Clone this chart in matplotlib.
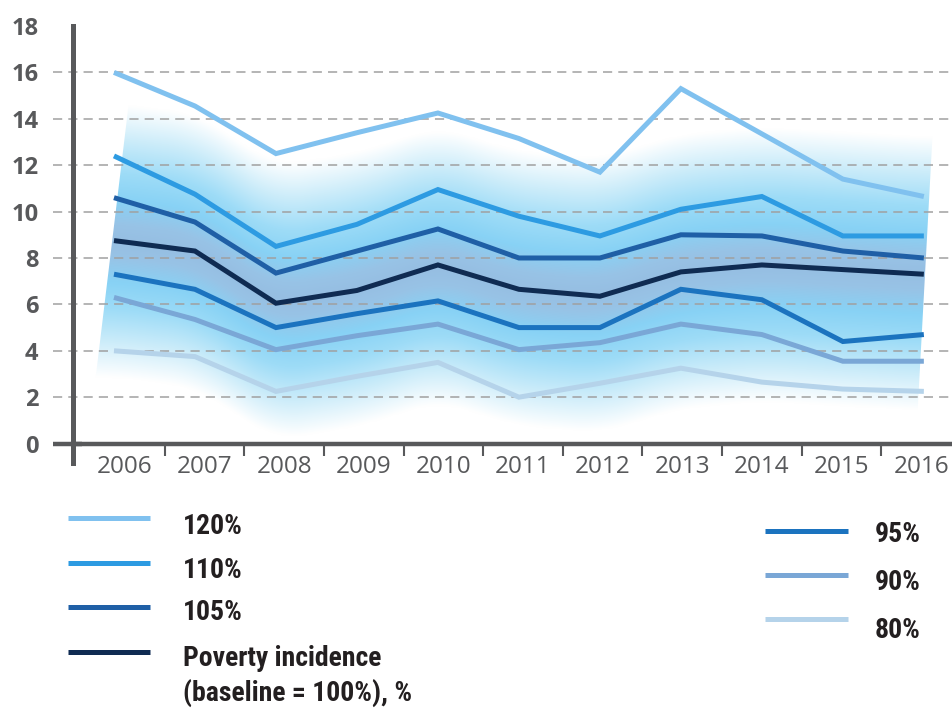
import numpy as np
import matplotlib
matplotlib.use('Agg')
import matplotlib.pyplot as plt
from matplotlib.lines import Line2D
from matplotlib.patches import Polygon
from matplotlib import font_manager

# ---------------- data ----------------
years = ['2006', '2007', '2008', '2009', '2010', '2011', '2012', '2013', '2014', '2015', '2016']
p120 = [16.0, 14.55, 12.5, 13.4, 14.25, 13.15, 11.7, 15.3, 13.35, 11.4, 10.65]
p110 = [12.4, 10.75, 8.5, 9.45, 10.95, 9.8, 8.95, 10.1, 10.65, 8.95, 8.95]
p105 = [10.6, 9.55, 7.35, 8.3, 9.25, 8.0, 8.0, 9.0, 8.95, 8.3, 8.0]
base = [8.75, 8.3, 6.05, 6.6, 7.7, 6.65, 6.35, 7.4, 7.7, 7.5, 7.3]
p95 = [7.3, 6.65, 5.0, 5.6, 6.15, 5.0, 5.0, 6.65, 6.2, 4.4, 4.7]
p90 = [6.3, 5.35, 4.05, 4.65, 5.15, 4.05, 4.35, 5.15, 4.7, 3.55, 3.55]
p80 = [4.0, 3.75, 2.25, 2.9, 3.5, 2.0, 2.6, 3.25, 2.65, 2.35, 2.25]
yticks = [0, 2, 4, 6, 8, 10, 12, 14, 16, 18]

series_left = [
    ('120%', p120, '#80c1ef'),
    ('110%', p110, '#2d9be2'),
    ('105%', p105, '#1f5fa6'),
    ('Poverty incidence', base, '#0f2b52'),
]
series_right = [
    ('95%', p95, '#1b73bf'),
    ('90%', p90, '#7aa7d6'),
    ('80%', p80, '#b5d3ea'),
]

# pick a narrow bold family if one exists
avail = {f.name for f in font_manager.fontManager.ttflist}
narrow = None
for cand in ['Liberation Sans Narrow', 'Roboto Condensed', 'Open Sans Condensed',
             'DejaVu Sans Condensed']:
    if cand in avail:
        narrow = cand
        break
if narrow is None:
    legend_family = ['Roboto']
    legend_size = 18.5
else:
    legend_family = [narrow, 'Roboto']
    legend_size = 20

W, H = 953, 709
fig = plt.figure(figsize=(W / 100, H / 100), dpi=100)
XMIN, XMAX = -0.506, 10.36
YMIN, YMAX = -0.85, 18
ax = fig.add_axes([73 / W, (H - 463.3) / H, (W - 73) / W, (463.3 - 26) / H])
ax.set_xlim(XMIN, XMAX)
ax.set_ylim(YMIN, YMAX)
ax.patch.set_alpha(0)

xi = np.arange(len(years))

# ---------------- glow band around the baseline ----------------
nx, ny = 900, 500
xs = np.linspace(XMIN, XMAX, nx)
ys = np.linspace(YMIN, YMAX, ny)
b = np.interp(xs, xi, base)
kw = 61
bpad = np.pad(b, kw // 2, mode='edge')
bs = np.convolve(bpad, np.ones(kw) / kw, mode='valid')
D = np.abs(ys[:, None] - bs[None, :]) / 5.9
stops = np.array([0.0, 0.12, 0.30, 0.50, 0.75, 1.0])
cols = np.array([[150, 190, 226], [152, 195, 230], [136, 210, 245],
                 [158, 220, 247], [206, 237, 250], [255, 255, 255]]) / 255.0
rgb = np.zeros((ny, nx, 3))
Dc = np.clip(D, 0, 1)
for c in range(3):
    rgb[..., c] = np.interp(Dc, stops, cols[:, c])
im = ax.imshow(rgb, extent=[XMIN, XMAX, YMIN, YMAX], origin='lower',
               aspect='auto', interpolation='bilinear', zorder=0)
clip = Polygon([[-0.359, -1], [0.298, 18], [10.18, 18], [9.886, -1]],
               closed=True, transform=ax.transData)
im.set_clip_path(clip)

# ---------------- grid ----------------
ext = -20 / (W - 73)
for v in yticks[1:-1]:
    ax.axhline(v, xmin=ext, xmax=1, clip_on=False, color='#a0a0a0',
               lw=1.1, ls=(0, (6, 4)), zorder=1)

# ---------------- lines ----------------
for name, vals, col in series_right[::-1] + series_left[::-1]:
    ax.plot(xi, vals, color=col, lw=3.6, solid_capstyle='butt',
            solid_joinstyle='miter', zorder=3)

# ---------------- axes ----------------
axcol = '#58595b'
for s in ['top', 'right']:
    ax.spines[s].set_visible(False)
ax.spines['left'].set_color(axcol)
ax.spines['left'].set_linewidth(3.6)
ax.spines['left'].set_zorder(5)
ax.spines['bottom'].set_position(('data', 0))
ax.spines['bottom'].set_color(axcol)
ax.spines['bottom'].set_linewidth(3.2)
ax.spines['bottom'].set_zorder(5)
ax.axhline(0, xmin=ext, xmax=0.01, clip_on=False, color=axcol, lw=3.2, zorder=5,
           solid_capstyle='butt')

label_pos = 0.136 + 0.983 * xi
tick_pos = label_pos[:-1] + 0.49
ax.set_xticks(tick_pos)
ax.set_xticklabels([])
ax.tick_params(axis='x', which='major', direction='out', length=8.5, width=1.5,
               color=axcol)
ax.set_xticks(label_pos, minor=True)
ax.set_xticklabels(years, minor=True, fontfamily='Open Sans', fontsize=17.5,
                   color=axcol)
ax.tick_params(axis='x', which='minor', length=0, pad=8)

ax.set_yticks(yticks)
ax.set_yticklabels([str(v) for v in yticks], fontfamily='Open Sans',
                   fontweight='bold', fontsize=17, color=axcol)
ax.tick_params(axis='y', length=0, pad=25)

# ---------------- legend ----------------
lfont = dict(family=legend_family, weight='bold', stretch='condensed',
             size=legend_size, color='#231f20', va='center', ha='left')

def fx(px):
    return px / W

def fy(py):
    return 1 - py / H

left_line_y = [518, 563, 607, 652]
left_text_y = [526, 570, 613, 658]
for (name, vals, col), ly, ty in zip(series_left, left_line_y, left_text_y):
    fig.add_artist(Line2D([fx(68), fx(150)], [fy(ly), fy(ly)], color=col, lw=3.6,
                          solid_capstyle='butt', transform=fig.transFigure))
    fig.text(fx(183), fy(ty), name, **lfont)
fig.text(fx(183), fy(693), '(baseline = 100%), %', **lfont)

right_line_y = [531, 575, 619]
right_text_y = [535, 583, 630]
for (name, vals, col), ly, ty in zip(series_right, right_line_y, right_text_y):
    fig.add_artist(Line2D([fx(765), fx(848)], [fy(ly), fy(ly)], color=col, lw=3.6,
                          solid_capstyle='butt', transform=fig.transFigure))
    fig.text(fx(875), fy(ty), name, **lfont)

fig.savefig('out.png', dpi=100)
